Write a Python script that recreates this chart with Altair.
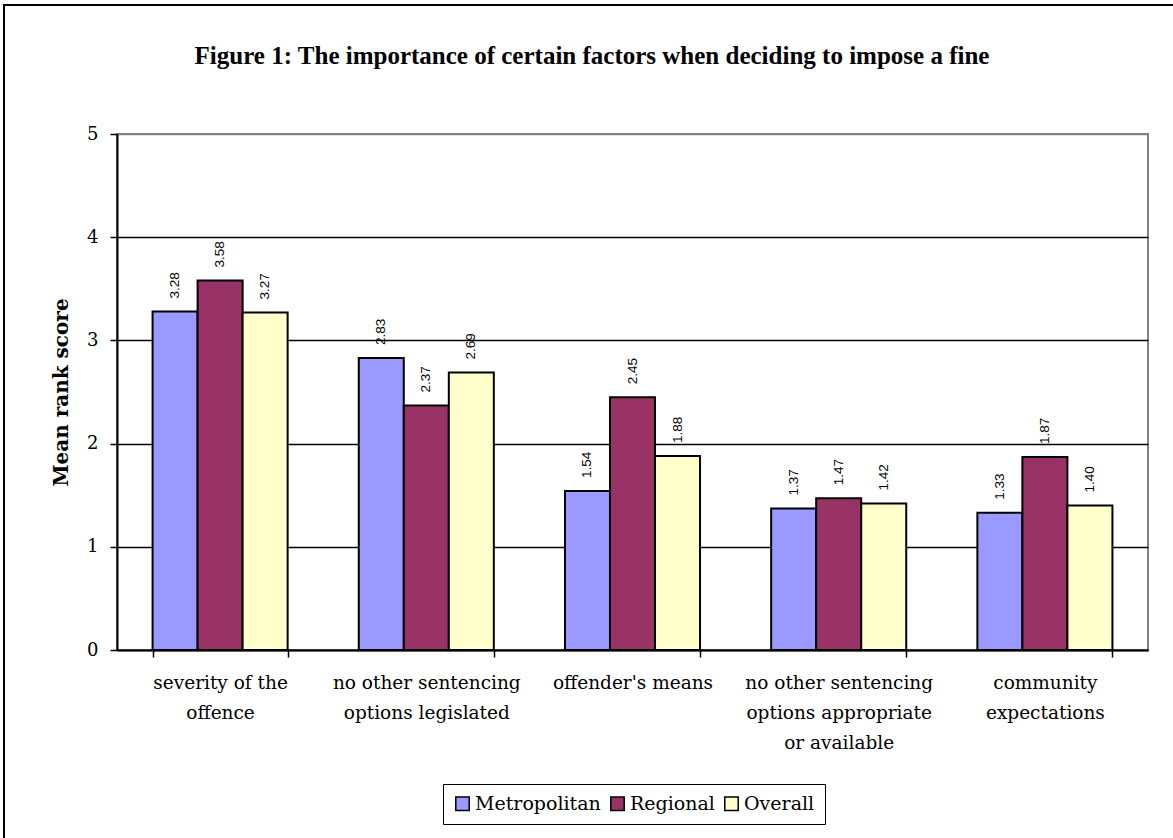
import altair as alt
import pandas as pd

categories = [
    "severity of the|offence",
    "no other sentencing|options legislated",
    "offender's means",
    "no other sentencing|options appropriate|or available",
    "community|expectations",
]
series_names = ["Metropolitan", "Regional", "Overall"]
metropolitan = [3.28, 2.83, 1.54, 1.37, 1.33]
regional = [3.58, 2.37, 2.45, 1.47, 1.87]
overall = [3.27, 2.69, 1.88, 1.42, 1.40]
colors = ["#9999FF", "#993366", "#FFFFCC"]
y_ticks = [0, 1, 2, 3, 4, 5]
title_text = "Figure 1: The importance of certain factors when deciding to impose a fine"

rows = []
for s, vals in zip(series_names, [metropolitan, regional, overall]):
    for c, v in zip(categories, vals):
        rows.append({"factor": c, "series": s, "value": v})
df = pd.DataFrame(rows)

SERIF = "Liberation Serif"
WSERIF = "DejaVu Serif"
SANS = "Liberation Sans"

x_enc = alt.X(
    "factor:N",
    sort=categories,
    scale=alt.Scale(paddingInner=0.345, paddingOuter=0.1725),
    axis=alt.Axis(
        title=None,
        labelAngle=0,
        labelExpr="split(datum.label, '|')",
        labelFont=WSERIF,
        labelFontSize=18.5,
        labelColor="black",
        labelLineHeight=30,
        labelPadding=16,
        labelBaseline="top",
        labelLimit=400,
        labelOverlap=False,
        tickBand="extent",
        tickColor="black",
        tickSize=7,
        tickWidth=1.5,
        domainColor="black",
        domainWidth=2,
        grid=False,
    ),
)
xoff = alt.XOffset("series:N", sort=series_names, scale=alt.Scale(paddingInner=0, paddingOuter=0))
y_enc = alt.Y(
    "value:Q",
    scale=alt.Scale(domain=[0, 5], nice=False),
    axis=alt.Axis(
        title="Mean rank score",
        titleFont=WSERIF,
        titleFontSize=20,
        titleFontWeight="bold",
        titleColor="black",
        titleX=-56,
        titleY=258,
        titleAngle=270,
        titleAlign="center",
        titleBaseline="middle",
        values=y_ticks,
        format="d",
        labelFont=WSERIF,
        labelFontSize=18,
        labelColor="black",
        labelPadding=12,
        tickColor="black",
        tickSize=7,
        tickWidth=1.5,
        domainColor="black",
        domainWidth=2,
        grid=True,
        gridColor=alt.condition("datum.value == 5", alt.value("#808080"), alt.value("black")),
        gridWidth=1.5,
    ),
)

bars = alt.Chart(df).mark_bar(stroke="black", strokeWidth=2).encode(
    x=x_enc,
    xOffset=xoff,
    y=y_enc,
    fill=alt.Fill(
        "series:N",
        sort=series_names,
        scale=alt.Scale(domain=series_names, range=colors),
        legend=alt.Legend(
            title=None,
            orient="none",
            legendX=326,
            legendY=650,
            direction="horizontal",
            columns=3,
            strokeColor="black",
            padding=10,
            symbolType="square",
            symbolSize=180,
            symbolStrokeColor="black",
            symbolStrokeWidth=1.5,
            labelFont=WSERIF,
            labelFontSize=19,
            labelColor="black",
            labelOffset=3,
            columnPadding=6,
        ),
    ),
)

labels = alt.Chart(df).mark_text(
    angle=270, align="left", baseline="middle", dx=13, font=SANS, fontSize=13.5, color="black"
).encode(
    x=alt.X("factor:N", sort=categories),
    xOffset=xoff,
    y=alt.Y("value:Q"),
    text=alt.Text("value:Q", format=".2f"),
)

frame = alt.Chart(pd.DataFrame({"a": [0]})).mark_rect(
    fill="transparent", stroke="black", strokeWidth=2
).encode(
    x=alt.value(-113), x2=alt.value(1100), y=alt.value(-129), y2=alt.value(800)
)

title = alt.Chart(pd.DataFrame({"t": [title_text]})).mark_text(
    font=SERIF, fontSize=25, fontWeight="bold", color="black", align="center", baseline="middle"
).encode(
    x=alt.value(475), y=alt.value(-78), text="t:N"
)

chart = (
    alt.layer(bars, labels, frame, title)
    .properties(
        width=1031,
        height=516,
        autosize=alt.AutoSizeParams(type="none"),
        padding={"left": 117, "top": 134, "right": 25, "bottom": 188},
        background="white",
    )
    .configure_view(stroke="#808080", strokeWidth=2)
)

chart.save("out.html", embed_options={"renderer": "svg", "actions": False})
